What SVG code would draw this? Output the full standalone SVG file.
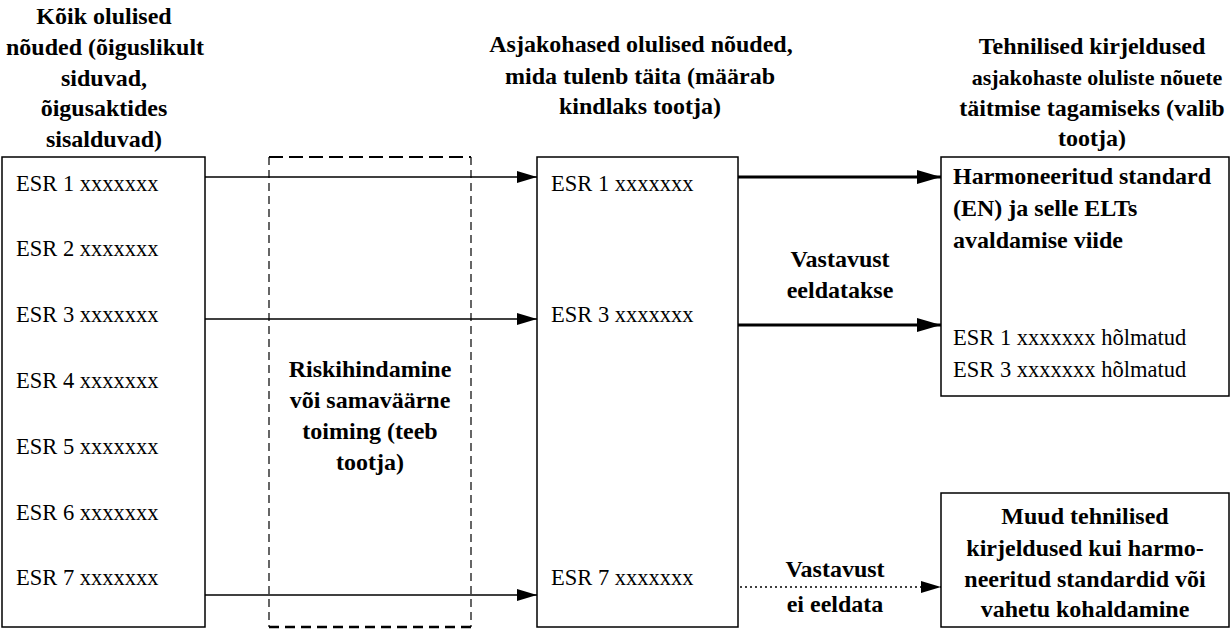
<svg xmlns="http://www.w3.org/2000/svg" width="1231" height="629" viewBox="0 0 1231 629">
<defs>
<style>
text{font-family:"Liberation Serif","Times New Roman",serif;fill:#000}
.b{font-weight:bold;font-size:24px}
.r{font-size:22.5px}
.c{text-anchor:middle}
.box{fill:#fff;stroke:#000;stroke-width:1.5}
.thin{stroke:#000;stroke-width:1.3;fill:none}
.thick{stroke:#000;stroke-width:3.2;fill:none}
.dot{stroke:#000;stroke-width:1.3;fill:none;stroke-dasharray:2 3}
</style>
<marker id="ah" viewBox="0 0 20 12" refX="20" refY="6" markerWidth="20" markerHeight="12" markerUnits="userSpaceOnUse" orient="auto"><path d="M0,0 L20,6 L0,12 Z" fill="#000"/></marker>
<marker id="ahb" viewBox="0 0 24 14" refX="24" refY="7" markerWidth="24" markerHeight="14" markerUnits="userSpaceOnUse" orient="auto"><path d="M0,0 L24,7 L0,14 Z" fill="#000"/></marker>
</defs>

<g id="title-left">
<text class="b c" x="104" y="24">Kõik olulised</text>
<text class="b c" x="105" y="55">nõuded (õiguslikult</text>
<text class="b c" x="104" y="86">siduvad,</text>
<text class="b c" x="104" y="116">õigusaktides</text>
<text class="b c" x="104" y="147">sisalduvad)</text>
</g>
<g id="title-mid">
<text class="b c" x="641" y="52">Asjakohased olulised nõuded,</text>
<text class="b c" x="640" y="84">mida tulenb täita (määrab</text>
<text class="b c" x="640" y="114">kindlaks tootja)</text>
</g>
<g id="title-right">
<text class="b c" x="1092" y="54">Tehnilised kirjeldused</text>
<text class="b c" x="1097" y="85" style="font-size:22px">asjakohaste oluliste nõuete</text>
<text class="b c" x="1092" y="116">täitmise tagamiseks (valib</text>
<text class="b c" x="1092" y="146">tootja)</text>
</g>

<g id="node-all">
<rect class="box" x="2" y="157" width="203" height="470"/>
<text class="r" x="16" y="191">ESR 1 xxxxxxx</text>
<text class="r" x="16" y="256">ESR 2 xxxxxxx</text>
<text class="r" x="16" y="322">ESR 3 xxxxxxx</text>
<text class="r" x="16" y="388">ESR 4 xxxxxxx</text>
<text class="r" x="16" y="454">ESR 5 xxxxxxx</text>
<text class="r" x="16" y="520">ESR 6 xxxxxxx</text>
<text class="r" x="16" y="585">ESR 7 xxxxxxx</text>
</g>

<g id="node-risk">
<line x1="269" y1="157" x2="471" y2="157" stroke="#000" stroke-width="2" stroke-dasharray="14 6"/>
<line x1="269" y1="627" x2="471" y2="627" stroke="#000" stroke-width="2.5" stroke-dasharray="10 6"/>
<line x1="269" y1="157" x2="269" y2="627" stroke="#000" stroke-width="1.2" stroke-dasharray="8 5"/>
<line x1="471" y1="157" x2="471" y2="627" stroke="#000" stroke-width="1.2" stroke-dasharray="8 5"/>
<text class="b c" x="370" y="377">Riskihindamine</text>
<text class="b c" x="370" y="408">või samaväärne</text>
<text class="b c" x="370" y="439">toiming (teeb</text>
<text class="b c" x="370" y="470">tootja)</text>
</g>

<g id="node-relevant">
<rect class="box" x="537" y="157" width="201" height="470"/>
<text class="r" x="551" y="191">ESR 1 xxxxxxx</text>
<text class="r" x="551" y="322">ESR 3 xxxxxxx</text>
<text class="r" x="551" y="585">ESR 7 xxxxxxx</text>
</g>

<g id="node-harmonised">
<rect class="box" x="941" y="157" width="288" height="239"/>
<text class="b" x="953" y="184">Harmoneeritud standard</text>
<text class="b" x="953" y="216">(EN) ja selle ELTs</text>
<text class="b" x="953" y="248">avaldamise viide</text>
<text class="r" x="953" y="345">ESR 1 xxxxxxx hõlmatud</text>
<text class="r" x="953" y="377">ESR 3 xxxxxxx hõlmatud</text>
</g>

<g id="node-other">
<rect class="box" x="941" y="493" width="288" height="134"/>
<text class="b c" x="1085" y="524">Muud tehnilised</text>
<text class="b c" x="1085" y="556">kirjeldused kui harmo-</text>
<text class="b c" x="1085" y="587">neeritud standardid või</text>
<text class="b c" x="1085" y="617">vahetu kohaldamine</text>
</g>

<g id="connectors">
<line class="thin" x1="205" y1="177" x2="537" y2="177" marker-end="url(#ah)"/>
<line class="thin" x1="205" y1="319" x2="537" y2="319" marker-end="url(#ah)"/>
<line class="thin" x1="205" y1="595" x2="537" y2="595" marker-end="url(#ah)"/>
<line class="thick" x1="738" y1="177" x2="941" y2="177" marker-end="url(#ahb)"/>
<line class="thick" x1="738" y1="325" x2="941" y2="325" marker-end="url(#ahb)"/>
<line class="dot" x1="740" y1="587" x2="941" y2="587" marker-end="url(#ah)"/>
<text class="b c" x="840" y="267">Vastavust</text>
<text class="b c" x="840" y="298">eeldatakse</text>
<text class="b c" x="835" y="577">Vastavust</text>
<text class="b c" x="835" y="612">ei eeldata</text>
</g>
</svg>
